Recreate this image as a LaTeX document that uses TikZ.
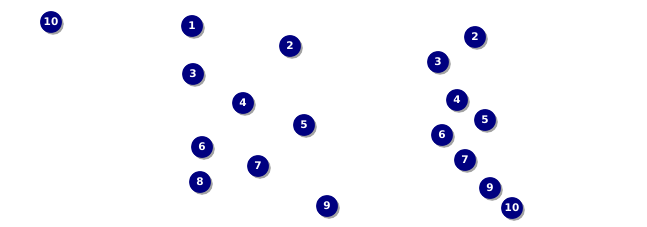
\documentclass[tikz,border=0pt]{standalone}
\usepackage{fontspec}
\setmainfont{DejaVu Sans}
\usetikzlibrary{shadows}
\definecolor{navy}{HTML}{000080}
\begin{document}
\begin{tikzpicture}[x=1pt,y=-1pt,
  ball/.style={circle,fill=navy,draw=navy,inner sep=0pt,minimum size=21.5pt,
    text=white,font=\bfseries\fontsize{10.5}{10.5}\selectfont,
    drop shadow={shadow xshift=2pt,shadow yshift=-2pt,fill=gray!80,opacity=0.9}}]
\useasboundingbox (0,0) rectangle (647,227);
\node[ball] (a10) at (51,22) {10};
\node[ball] (a1) at (192,26) {1};
\node[ball] (a2) at (290,46) {2};
\node[ball] (a3) at (193,74) {3};
\node[ball] (a4) at (243,103) {4};
\node[ball] (a5) at (304,125) {5};
\node[ball] (a6) at (202,147) {6};
\node[ball] (a7) at (258,166) {7};
\node[ball] (a8) at (200,182) {8};
\node[ball] (a9) at (327,206) {9};
\node[ball] (b2) at (475,37) {2};
\node[ball] (b3) at (438,62) {3};
\node[ball] (b4) at (457,100) {4};
\node[ball] (b5) at (485,120) {5};
\node[ball] (b6) at (442,135) {6};
\node[ball] (b7) at (465,160) {7};
\node[ball] (b9) at (490,188) {9};
\node[ball] (b10) at (512,208) {10};
\end{tikzpicture}
\end{document}
